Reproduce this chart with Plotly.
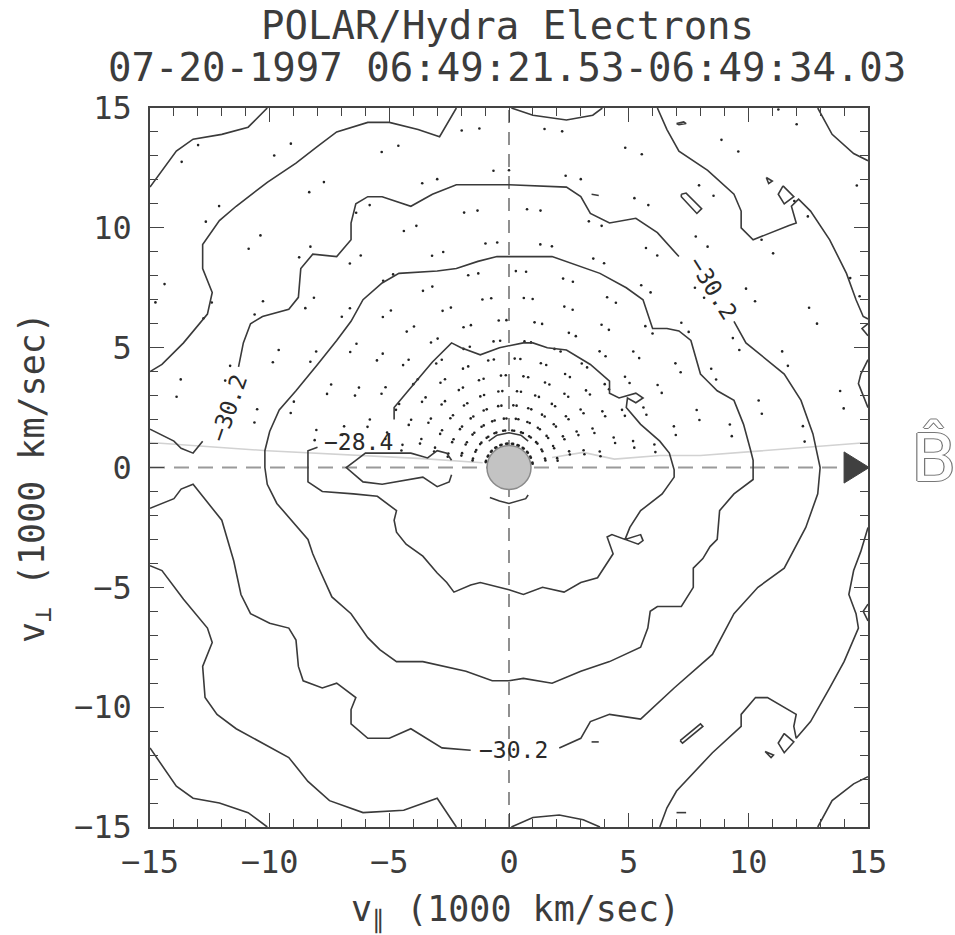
import math
import plotly.graph_objects as go

# ---------------- data (1000 km/s) ----------------
AXIS_RANGE = [-15, 15]
TICK_VALUES = [-15, -10, -5, 0, 5, 10, 15]

# contour level -30.2 (closed around the core, broken where labels sit)
CONTOUR_30_2 = [
    [(-15, 1.6), (-14.0, 1.1), (-13.7, 0.8), (-13.2, 0.6), (-12.8, 1.1)],
    [(-11.3, 4.2), (-11.1, 5.2), (-10.8, 6.0), (-10.3, 6.3), (-9.2, 6.6), (-8.8, 7.1), (-8.7, 8.3),
     (-8.2, 8.9), (-7.2, 8.8), (-6.6, 9.5), (-6.6, 10.2), (-6.4, 11.0), (-5.9, 11.3), (-5.3, 11.3),
     (-4.1, 10.9), (-3.2, 11.4), (-2.2, 11.8), (-1.1, 11.8), (0, 11.8), (2.4, 11.7), (3.0, 11.3),
     (3.4, 10.6), (4.2, 10.2), (5.3, 10.4), (6.2, 9.8), (7.1, 8.8)],
    [(9.4, 6.1), (9.9, 5.2), (11.5, 3.9), (12.2, 2.8), (12.7, 1.4), (13.0, 0.0), (12.9, -1.1),
     (12.4, -2.5), (11.5, -4.2), (10.4, -5.0), (9.4, -6.1), (8.5, -7.8), (6.9, -9.2), (5.5, -10.5),
     (4.2, -10.3), (3.4, -10.6), (3.0, -11.3), (2.1, -11.7)],
    [(-1.6, -11.8), (-2.8, -11.7), (-4.1, -10.9), (-5.0, -11.3), (-5.9, -11.3), (-6.6, -10.7),
     (-6.6, -10.1), (-6.4, -9.6), (-7.2, -9.0), (-7.8, -9.2), (-8.6, -8.9), (-8.8, -8.3), (-8.9, -7.2),
     (-9.2, -6.7), (-10.0, -6.5), (-10.8, -6.1), (-11.2, -5.3), (-11.5, -3.9), (-12.0, -2.2),
     (-12.8, -1.2), (-13.2, -0.7), (-13.7, -0.9), (-14.0, -1.3), (-15, -1.7)],
]

# -28.4 level (label gap on the left)
CONTOUR_28_4 = [
    [(-4.8, 2.0), (-4.8, 2.5), (-4.3, 3.1), (-3.6, 3.9), (-3.2, 4.4), (-2.4, 5.2), (-2.0, 5.0),
     (-1.2, 4.7), (-0.4, 5.0), (0.6, 5.2), (1.0, 5.2), (1.6, 5.0), (2.4, 4.9), (3.4, 4.3), (4.2, 3.6),
     (4.2, 3.1), (4.6, 2.9), (5.3, 3.1), (5.6, 2.9), (5.3, 2.7), (4.95, 2.9), (4.9, 2.5), (5.5, 1.8),
     (6.3, 1.1), (6.7, 0.6), (6.9, -0.1), (6.9, -0.4), (6.4, -1.1), (6.0, -1.4), (5.5, -1.8),
     (5.05, -2.5), (4.85, -3.0), (5.4, -3.2), (5.6, -3.05), (5.5, -2.8), (4.85, -3.0), (4.3, -2.8),
     (4.1, -2.9), (4.35, -3.6), (3.7, -4.6), (3.0, -4.8), (2.3, -5.2), (1.4, -5.0), (0.6, -5.3),
     (0, -5.1), (-1.2, -4.8), (-1.6, -4.9), (-2.3, -5.2), (-2.6, -4.8), (-3.0, -4.4), (-3.6, -3.7),
     (-4.3, -3.2), (-4.7, -2.7), (-4.8, -2.2), (-4.7, -1.8), (-5.5, -1.2), (-6.5, -1.1), (-7.8, -1.0),
     (-8.4, -0.6), (-8.4, 0.3), (-8.4, 0.7), (-8.0, 0.85)],
]

# intermediate closed level between -30.2 and -28.4
CONTOUR_MID = [
    [(0, 8.8), (-0.5, 8.8), (-1.3, 8.6), (-2.2, 8.3), (-3.0, 8.2), (-4.6, 8.1), (-5.3, 7.7), (-6.1, 7.0),
     (-6.6, 6.1), (-7.2, 5.3), (-8.0, 4.3), (-8.9, 3.2), (-9.6, 2.4), (-10.0, 1.5), (-10.2, 0.7),
     (-10.2, 0.0), (-10.1, -0.7), (-9.7, -1.5), (-8.4, -3.0), (-8.2, -3.6), (-7.9, -4.3), (-7.4, -5.4),
     (-6.6, -6.1), (-5.9, -7.1), (-5.4, -7.6), (-4.7, -8.1), (-3.6, -8.1), (-1.8, -8.5), (-0.7, -8.9),
     (0, -8.9), (0.6, -8.8), (1.8, -9.0), (3.0, -8.5), (4.2, -8.1), (5.5, -7.5), (5.8, -6.7), (5.9, -6.0),
     (6.2, -5.8), (7.2, -5.8), (7.7, -5.0), (7.7, -4.2), (8.1, -3.8), (8.4, -3.3), (8.7, -3.0),
     (8.8, -1.8), (9.4, -1.1), (10.2, -0.5), (10.2, 0.3), (10.1, 0.7), (9.8, 1.8), (9.4, 2.8), (8.7, 3.2),
     (8.3, 3.6), (8.0, 3.9), (7.6, 5.3), (7.1, 5.7), (6.6, 5.8), (6.0, 5.8), (5.6, 7.0), (4.9, 7.5),
     (3.8, 8.1), (2.7, 8.5), (1.8, 8.8), (0.7, 8.8), (0, 8.8)],
]

# outer levels
CONTOUR_OUTER = [
    [(-2.2, 15), (-2.9, 13.8), (-3.8, 14.1), (-5.0, 14.4), (-5.9, 14.4), (-7.2, 14.0), (-8.0, 13.4),
     (-8.9, 12.7), (-10.1, 11.9), (-11.4, 10.9), (-12.1, 10.3), (-12.8, 9.3), (-12.8, 8.3), (-12.4, 7.3),
     (-12.6, 6.4), (-13.6, 5.2), (-14.5, 4.3), (-15, 4.0)],
    [(-15, -4.1), (-14.5, -4.3), (-13.6, -5.5), (-12.6, -6.7), (-12.4, -7.3), (-12.8, -8.3),
     (-12.7, -9.6), (-12.2, -10.3), (-11.4, -10.9), (-9.2, -12.1), (-8.4, -13.1), (-7.5, -13.9),
     (-6.1, -14.4), (-4.4, -14.3), (-3.0, -13.8), (-2.2, -15)],
    [(6.2, 15), (6.6, 14.1), (7.1, 13.2), (8.3, 12.4), (9.4, 11.4), (9.7, 10.7), (9.7, 10.0), (10.2, 9.5),
     (11.7, 10.1), (12.0, 10.2), (11.8, 10.9), (12.1, 11.2), (12.6, 10.7), (13.4, 9.5), (14.1, 8.1),
     (14.5, 7.0), (14.8, 6.3), (15, 6.2)],
    [(15, 4.5), (14.7, 3.9), (14.6, 3.5), (15, 2.5)],
    [(15, -2.5), (14.7, -3.5), (14.4, -4.3), (14.2, -5.3), (14.5, -6.1), (14.6, -6.7), (14.0, -8.1),
     (13.4, -9.2), (12.6, -10.6), (12.0, -11.3), (11.9, -10.8), (12.0, -10.3), (10.8, -9.6),
     (10.3, -9.6), (9.7, -10.3), (9.7, -10.8), (8.5, -11.9), (7.0, -13.5), (6.6, -14.2), (6.3, -15)],
    [(0.1, 15), (1.0, 14.7), (2.4, 14.5), (3.5, 14.7), (3.9, 15)],
    [(0.1, -15), (1.0, -14.6), (2.1, -14.5), (3.1, -14.7), (3.8, -15)],
    [(-15, 11.7), (-13.9, 13.2), (-13.2, 13.7), (-12.0, 13.9), (-10.9, 14.2), (-10.1, 15)],
    [(-15, -11.7), (-13.9, -13.3), (-13.2, -13.8), (-12.1, -14.0), (-10.9, -14.4), (-10.1, -15)],
    [(12.9, 15), (13.5, 13.9), (14.4, 13.1), (15, 12.8)],
    [(12.9, -15), (13.5, -13.9), (14.4, -13.2), (15, -12.9)],
    [(15, 6.0), (14.75, 5.8), (15, 5.5)],
    [(15, -5.7), (14.8, -6.0), (15, -6.4)],
]

# small closed islands
ISLANDS = [
    [(7.2, 11.4), (7.4, 11.45), (8.05, 10.8), (7.85, 10.6), (7.2, 11.3), (7.2, 11.4)],
    [(11.45, 11.75), (11.9, 11.3), (11.5, 11.0), (11.25, 11.4), (11.45, 11.75)],
    [(10.75, 12.1), (11.0, 11.95), (10.85, 11.85), (10.75, 12.1)],
    [(7.0, 14.35), (7.3, 14.42), (7.4, 14.35), (7.1, 14.3), (7.0, 14.35)],
    [(3.45, 11.4), (3.75, 11.35)],
    [(7.15, -11.4), (8.0, -10.7), (8.1, -10.8), (7.25, -11.5), (7.15, -11.4)],
    [(11.5, -11.1), (11.9, -11.45), (11.5, -11.9), (11.25, -11.5), (11.5, -11.1)],
    [(10.7, -11.85), (10.95, -12.1), (11.05, -12.0), (10.7, -11.85)],
    [(3.45, -11.45), (3.75, -11.45)],
    [(7.0, -14.4), (7.4, -14.4)],
]

# core-level fragments
CORE = [
    [(-2.4, 0.3), (-2.6, 0.6), (-3.0, 0.7), (-3.4, 0.4), (-4.1, 0.6), (-5.3, 0.6), (-6.0, 0.6),
     (-6.4, 0.3), (-6.8, 0.0), (-6.1, -0.6), (-5.3, -0.7), (-3.6, -0.4), (-3.0, -0.8), (-2.5, -0.6),
     (-2.4, -0.3)],
    [(-0.85, 1.1), (-0.5, 1.35), (0, 1.45), (0.5, 1.35), (0.8, 1.1)],
    [(-0.8, -1.25), (-0.4, -1.4), (0, -1.5), (0.7, -1.3), (0.8, -1.15)],
]

# thin grey boundary line
GREY_LINE = [
    [(-15, 1.04), (-10.1, 0.7), (-3.6, 0.37), (-1.1, 0.2)],
    [(1.8, 0.42), (3.1, 0.63), (4.4, 0.35), (6.3, 0.5), (8.0, 0.5), (15, 1.04)],
]

# measurement grid (speed rings x pitch angles, deg) for the sample dots
RING_SPEEDS = [1.0, 1.55, 2.05, 2.6, 3.2, 3.85, 4.55, 5.3, 6.15, 7.1, 8.2, 9.4, 10.8, 12.4, 14.2, 16.3, 18.7]
RING_SHIFT = [0, 2, -1, 3, 1, -2, 4, 0, -3, 2, 5, -1, 3, -4, 1, 2, -2]
PITCH_ANGLES = [9, 12, 24, 27, 38, 41, 52, 55, 66, 69, 80, 83, 94, 97, 108, 111,
                122, 125, 136, 139, 150, 153, 164, 167]

CONTOUR_LABELS = [("−30.2", -11.74, 2.46, -71), ("−30.2", 8.53, 7.51, 58),
                  ("−30.2", 0.17, -11.8, 0), ("−28.4", -6.3, 1.08, 0)]

CORE_RADIUS = 0.92
ARROW_BASE, ARROW_TIP, ARROW_HALF = 14.0, 15.05, 0.65

# ---------------- figure ----------------
def flatten(segments):
    xs, ys = [], []
    for seg in segments:
        for x, y in seg:
            xs.append(x)
            ys.append(y)
        xs.append(None)
        ys.append(None)
    return xs, ys

LINE_COL = "#3a3a3a"
TXT = "#2a2a2a"
TXT2 = "#3c3c3c"
MONO = "DejaVu Sans Mono"

fig = go.Figure()

gx, gy = flatten(GREY_LINE)
fig.add_trace(go.Scatter(x=gx, y=gy, mode="lines", line=dict(color="#d2d2d2", width=1.6),
                         hoverinfo="skip", showlegend=False))

dx, dy = [], []
for v, sh in zip(RING_SPEEDS, RING_SHIFT):
    for a in PITCH_ANGLES:
        ang = math.radians(a + sh)
        x, y = v * math.cos(ang), v * math.sin(ang)
        if abs(x) <= 15 and y <= 15:
            dx.append(x)
            dy.append(y)
fig.add_trace(go.Scatter(x=dx, y=dy, mode="markers", marker=dict(size=2.6, color="#222"),
                         hoverinfo="skip", showlegend=False))

for group in (CONTOUR_OUTER, CONTOUR_30_2, CONTOUR_MID, CONTOUR_28_4, CORE, ISLANDS):
    cx, cy = flatten(group)
    fig.add_trace(go.Scatter(x=cx, y=cy, mode="lines", line=dict(color=LINE_COL, width=1.6),
                             hoverinfo="skip", showlegend=False))

shapes = [
    dict(type="line", xref="x", yref="y", x0=-15, x1=ARROW_BASE, y0=0, y1=0, layer="below",
         line=dict(color="#9a9a9a", width=2.2, dash="15px,9px")),
    dict(type="line", xref="x", yref="y", x0=0, x1=0, y0=-15, y1=15, layer="below",
         line=dict(color="#555", width=1.3, dash="13px,9px")),
    dict(type="circle", xref="x", yref="y", x0=-CORE_RADIUS, x1=CORE_RADIUS,
         y0=-CORE_RADIUS, y1=CORE_RADIUS, layer="below",
         fillcolor="#c3c3c3", line=dict(color="#8a8a8a", width=1.5)),
    dict(type="path", xref="x", yref="y",
         path=f"M {ARROW_BASE},{ARROW_HALF} L {ARROW_TIP},0 L {ARROW_BASE},{-ARROW_HALF} Z",
         fillcolor="#404040", line=dict(color="#404040", width=1)),
]

def px_x(px):
    return (px - 150) / 718.0

def px_y(py):
    return (827 - py) / 719.0

annotations = []
for txt, x, y, ang in CONTOUR_LABELS:
    annotations.append(dict(text=txt, x=x, y=y, xref="x", yref="y", showarrow=False,
                            textangle=ang, font=dict(family=MONO, size=23, color=TXT)))

annotations += [
    dict(text="POLAR/Hydra Electrons", x=px_x(507), y=px_y(25), xref="paper", yref="paper",
         showarrow=False, xanchor="center", yanchor="middle",
         font=dict(family=MONO, size=39, color=TXT2)),
    dict(text="07-20-1997 06:49:21.53-06:49:34.03", x=px_x(507), y=px_y(67.5), xref="paper",
         yref="paper", showarrow=False, xanchor="center", yanchor="middle",
         font=dict(family=MONO, size=39, color=TXT2)),
    dict(text="v<sub>∥</sub> (1000 km/sec)", x=px_x(515), y=px_y(912), xref="paper", yref="paper",
         showarrow=False, xanchor="center", yanchor="middle",
         font=dict(family=MONO, size=35, color=TXT2)),
    dict(text="v<sub>⊥</sub> (1000 km/sec)", x=px_x(34), y=px_y(478), xref="paper", yref="paper",
         showarrow=False, xanchor="center", yanchor="middle", textangle=-90,
         font=dict(family=MONO, size=35, color=TXT2)),
    dict(text="B̂", x=px_x(933), y=px_y(458), xref="paper", yref="paper",
         showarrow=False, xanchor="center", yanchor="middle",
         font=dict(family="DejaVu Sans", size=66, color="white",
                   shadow="1.2px 0 0 #777, -1.2px 0 0 #777, 0 1.2px 0 #777, 0 -1.2px 0 #777")),
]

axis_common = dict(
    range=AXIS_RANGE, tickvals=TICK_VALUES, ticks="inside", ticklen=14, tickwidth=1.4,
    tickcolor="#444", showline=True, linecolor="#444", linewidth=1.5, mirror="allticks",
    showgrid=False, zeroline=False, tickfont=dict(family=MONO, size=32, color=TXT2),
    minor=dict(dtick=1, ticks="inside", ticklen=8, tickwidth=1.2, tickcolor="#444", showgrid=False),
    fixedrange=True,
)

fig.update_layout(
    width=955, height=935, autosize=False,
    margin=dict(l=150, r=87, t=108, b=108),
    paper_bgcolor="white", plot_bgcolor="white",
    xaxis=dict(**axis_common, ticklabelstandoff=6),
    yaxis=dict(**axis_common, ticklabelstandoff=10),
    shapes=shapes, annotations=annotations, showlegend=False,
)

fig.write_html("out.html")
